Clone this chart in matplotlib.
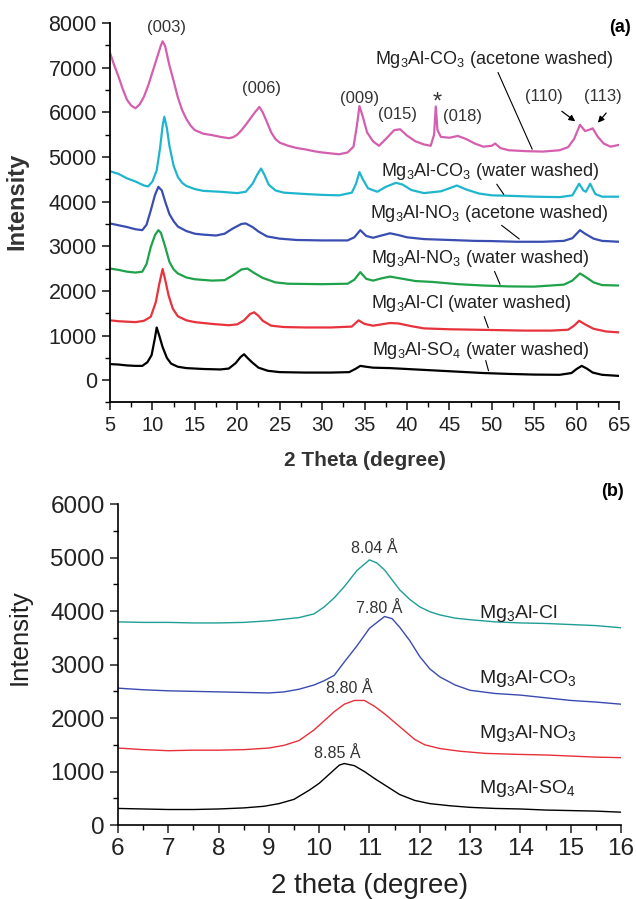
import matplotlib
matplotlib.use("Agg")
import matplotlib.pyplot as plt
from matplotlib.ticker import MultipleLocator

plt.rcParams['font.family'] = ['Liberation Sans', 'DejaVu Sans']
plt.rcParams['mathtext.fontset'] = 'custom'
plt.rcParams['mathtext.rm'] = 'Liberation Sans'
plt.rcParams['mathtext.it'] = 'Liberation Sans:italic'

# ---- panel (a) data: XRD patterns, 2 theta 5-65 ----
co3_acetone_x = [5.0, 5.5, 6.0, 6.5, 7.0, 7.5, 8.0, 8.5, 9.0, 9.5, 10.0, 10.5, 11.0, 11.2, 11.5, 12.0, 12.5, 13.0,
                 13.5, 14.0, 14.5, 15.0, 16.0, 17.0, 18.0, 19.0, 19.5, 20.0, 20.5, 21.0, 21.5, 22.0, 22.6, 23.0,
                 23.5, 24.0, 24.5, 25.0, 26.0, 27.0, 28.0, 29.0, 30.0, 31.0, 32.0, 33.0, 33.7, 34.1, 34.4, 34.8,
                 35.3, 36.0, 36.7, 37.5, 38.5, 39.2, 40.0, 41.0, 42.0, 42.8, 43.2, 43.4, 43.6, 44.0, 45.0, 46.0,
                 47.0, 48.0, 49.0, 50.0, 50.4, 51.0, 52.0, 54.0, 56.0, 58.0, 59.0, 59.7, 60.4, 61.0, 61.5, 61.9,
                 62.5, 63.2, 64.0, 65.0]
co3_acetone_y = [7330, 7050, 6800, 6520, 6280, 6150, 6090, 6180, 6350, 6600, 6900, 7200, 7500, 7590, 7480, 7050, 6700, 6330,
                 6050, 5850, 5700, 5600, 5520, 5490, 5450, 5420, 5440, 5500, 5600, 5720, 5850, 5980, 6120, 6000,
                 5780, 5550, 5400, 5320, 5250, 5200, 5170, 5130, 5100, 5080, 5060, 5100, 5230, 5700, 6140, 5900,
                 5550, 5350, 5250, 5400, 5600, 5620, 5480, 5350, 5280, 5250, 5500, 6130, 5600, 5450, 5430, 5470,
                 5400, 5300, 5230, 5250, 5300, 5200, 5150, 5130, 5120, 5150, 5220, 5400, 5720, 5580, 5610, 5640,
                 5450, 5300, 5230, 5270]

co3_water_x = [5.0, 6.0, 7.0, 8.0, 9.0, 9.5, 10.0, 10.5, 10.9, 11.2, 11.4, 11.7, 12.0, 12.5, 13.0, 13.5, 14.0, 15.0,
               16.0, 18.0, 20.0, 21.0, 21.8, 22.4, 22.8, 23.2, 23.7, 24.5, 25.5, 28.0, 30.0, 32.0, 33.5, 34.0, 34.4,
               34.8, 35.4, 36.5, 37.5, 38.7, 39.5, 40.5, 42.0, 44.0, 45.9, 47.0, 48.5, 50.0, 52.0, 55.0, 58.0,
               59.5, 60.3, 60.8, 61.1, 61.6, 62.2, 63.0, 65.0]
co3_water_y = [4680, 4620, 4520, 4450, 4360, 4340, 4450, 4700, 5200, 5700, 5900, 5650, 5250, 4800, 4550, 4420, 4350, 4280,
               4240, 4220, 4190, 4220, 4400, 4620, 4740, 4600, 4380, 4250, 4200, 4170, 4150, 4140, 4200, 4400, 4660,
               4500, 4300, 4220, 4330, 4420, 4380, 4260, 4190, 4230, 4360, 4270, 4180, 4140, 4130, 4110, 4100,
               4140, 4400, 4250, 4220, 4400, 4170, 4110, 4110]

no3_acetone_x = [5.0, 6.0, 7.0, 8.0, 8.8, 9.3, 9.8, 10.3, 10.7, 11.1, 11.5, 12.0, 12.5, 13.0, 14.0, 15.0, 16.0, 17.5,
                 18.5, 19.5, 20.5, 21.0, 21.8, 22.5, 23.5, 25.0, 27.0, 30.0, 33.0, 33.8, 34.5, 35.2, 36.0, 37.0,
                 38.0, 39.0, 40.0, 42.0, 45.0, 48.0, 50.0, 53.0, 56.0, 58.5, 59.5, 60.4, 61.0, 62.0, 63.0, 65.0]
no3_acetone_y = [3510, 3470, 3430, 3380, 3360, 3480, 3800, 4150, 4330, 4250, 4000, 3720, 3560, 3440, 3340, 3280, 3260, 3240,
                 3280, 3400, 3500, 3510, 3430, 3330, 3220, 3170, 3140, 3130, 3130, 3200, 3360, 3230, 3190, 3240,
                 3290, 3250, 3200, 3160, 3140, 3120, 3115, 3100, 3100, 3120, 3180, 3360, 3280, 3170, 3120, 3100]

no3_water_x = [5.0, 6.0, 7.0, 8.0, 8.8, 9.3, 9.8, 10.3, 10.7, 11.0, 11.5, 12.0, 12.5, 13.0, 14.0, 15.0, 17.0, 18.5,
               19.5, 20.5, 21.2, 22.0, 23.0, 24.5, 26.0, 30.0, 33.0, 33.8, 34.5, 35.2, 36.0, 37.0, 38.0, 39.5,
               41.0, 43.0, 46.0, 49.0, 52.0, 55.0, 58.5, 59.5, 60.4, 61.0, 62.0, 63.0, 65.0]
no3_water_y = [2500, 2470, 2430, 2410, 2430, 2600, 2980, 3250, 3360, 3300, 2990, 2650, 2480, 2390, 2300, 2260, 2230, 2240,
               2350, 2480, 2500, 2400, 2290, 2190, 2160, 2150, 2160, 2250, 2420, 2270, 2230, 2280, 2320, 2270,
               2220, 2200, 2150, 2120, 2100, 2095, 2140, 2230, 2390, 2320, 2190, 2130, 2120]

cl_water_x = [5.0, 6.0, 7.0, 8.0, 9.0, 9.8, 10.4, 10.8, 11.2, 11.5, 11.9, 12.4, 13.0, 14.0, 15.0, 17.0, 19.0, 20.0,
              20.8, 21.5, 22.0, 22.5, 23.0, 24.0, 25.5, 28.0, 31.0, 33.5, 34.3, 35.0, 36.0, 37.0, 38.0, 39.0,
              40.5, 42.0, 45.0, 48.0, 51.0, 54.0, 57.0, 59.0, 59.7, 60.3, 61.0, 62.0, 63.5, 65.0]
cl_water_y = [1340, 1320, 1310, 1300, 1330, 1420, 1750, 2150, 2490, 2250, 1900, 1600, 1430, 1340, 1300, 1260, 1230, 1250,
              1340, 1480, 1520, 1440, 1330, 1220, 1190, 1180, 1180, 1200, 1340, 1260, 1220, 1250, 1280, 1270,
              1210, 1160, 1140, 1130, 1120, 1110, 1110, 1130, 1220, 1330, 1250, 1150, 1090, 1070]

so4_water_x = [5.0, 6.0, 7.0, 8.0, 8.8, 9.4, 9.9, 10.3, 10.5, 10.8, 11.2, 11.7, 12.2, 13.0, 14.0, 16.0, 18.0, 19.0,
               19.8, 20.4, 20.8, 21.3, 21.8, 22.5, 23.6, 25.0, 28.0, 31.0, 33.2, 34.0, 34.5, 35.2, 36.0, 38.0,
               40.0, 43.0, 46.0, 49.0, 52.0, 55.0, 58.0, 59.4, 60.0, 60.6, 61.2, 61.9, 63.0, 65.0]
so4_water_y = [360, 350, 330, 320, 320, 400, 560, 950, 1180, 1000, 740, 500, 370, 300, 270, 250, 240, 260,
               380, 520, 580, 480, 390, 280, 210, 180, 170, 170, 180, 260, 320, 300, 280, 270,
               250, 220, 190, 160, 140, 125, 120, 160, 250, 320, 260, 170, 120, 95]

# ---- panel (b) data: low-angle region, 2 theta 6-16 ----
b_cl_x = [6.0, 6.5, 7.0, 7.5, 8.0, 8.5, 9.0, 9.3, 9.6, 9.9, 10.1, 10.3, 10.5, 10.75, 11.0, 11.15, 11.3, 11.6, 11.8,
          12.0, 12.2, 12.4, 12.7, 13.0, 13.5, 14.0, 14.5, 15.0, 15.5, 16.0]
b_cl_y = [3800, 3790, 3790, 3780, 3780, 3790, 3820, 3850, 3880, 3950, 4080, 4250, 4460, 4760, 4960, 4900, 4770, 4400, 4220,
          4080, 3990, 3930, 3870, 3840, 3800, 3780, 3770, 3750, 3730, 3690]

b_co3_x = [6.0, 6.5, 7.0, 7.5, 8.0, 8.5, 9.0, 9.3, 9.6, 9.9, 10.1, 10.3, 10.5, 10.75, 11.0, 11.3, 11.45, 11.6, 11.8,
           12.0, 12.2, 12.4, 12.7, 13.0, 13.5, 14.0, 14.5, 15.0, 15.5, 16.0]
b_co3_y = [2560, 2530, 2510, 2500, 2490, 2480, 2470, 2490, 2540, 2620, 2700, 2800, 3050, 3350, 3680, 3900, 3860, 3700, 3450,
           3150, 2920, 2770, 2620, 2520, 2460, 2430, 2380, 2330, 2300, 2260]

b_no3_x = [6.0, 6.5, 7.0, 7.5, 8.0, 8.5, 9.0, 9.3, 9.6, 9.9, 10.1, 10.3, 10.5, 10.7, 10.9, 11.1, 11.3, 11.5, 11.7,
           11.9, 12.1, 12.4, 12.8, 13.3, 14.0, 14.5, 15.0, 15.5, 16.0]
b_no3_y = [1440, 1410, 1390, 1400, 1400, 1410, 1440, 1490, 1580, 1780, 1950, 2120, 2260, 2330, 2330, 2220, 2080, 1920, 1760,
           1600, 1500, 1430, 1380, 1340, 1320, 1310, 1290, 1270, 1260]

b_so4_x = [6.0, 6.5, 7.0, 7.5, 8.0, 8.5, 8.9, 9.2, 9.5, 9.8, 10.0, 10.2, 10.4, 10.5, 10.7, 10.9, 11.1, 11.3, 11.6,
           11.9, 12.2, 12.6, 13.0, 13.5, 14.0, 14.5, 15.0, 15.5, 16.0]
b_so4_y = [310, 300, 290, 290, 300, 320, 350, 400, 480, 650, 780, 950, 1120, 1150, 1110, 1000, 870, 750, 570,
           460, 400, 360, 330, 310, 300, 280, 270, 260, 240]

peak_labels = ['(003)', '(006)', '(009)', '(015)', '*', '(018)', '(110)', '(113)']
spacing_labels = ['8.04 Å', '7.80 Å', '8.80 Å', '8.85 Å']

fig = plt.figure(figsize=(6.36, 8.99), dpi=100)

# ================= panel (a) =================
ax = fig.add_axes([0.173, 0.5523, 0.8003, 0.4221])
ax.plot(co3_acetone_x, co3_acetone_y, color='#d45fae', lw=1.6)
ax.plot(co3_water_x, co3_water_y, color='#1fb6cd', lw=1.6)
ax.plot(no3_acetone_x, no3_acetone_y, color='#3a4db0', lw=1.6)
ax.plot(no3_water_x, no3_water_y, color='#1fa24a', lw=1.6)
ax.plot(cl_water_x, cl_water_y, color='#e8323c', lw=1.6)
ax.plot(so4_water_x, so4_water_y, color='black', lw=1.6)

ax.set_xlim(5, 65)
ax.set_ylim(-500, 8000)
ax.xaxis.set_major_locator(MultipleLocator(5))
ax.xaxis.set_minor_locator(MultipleLocator(2.5))
ax.yaxis.set_major_locator(MultipleLocator(1000))
ax.yaxis.set_minor_locator(MultipleLocator(500))
for s in ['top', 'right']:
    ax.spines[s].set_visible(False)
for s in ['left', 'bottom']:
    ax.spines[s].set_linewidth(1.3)
ax.tick_params(which='major', length=6, width=1.2, labelsize=14.5, colors='#222222')
ax.tick_params(axis='y', labelsize=15.5)
ax.tick_params(which='minor', length=3.5, width=1.0)
ax.set_xlabel('2 Theta (degree)', fontsize=15, fontweight='bold', color='#333333', labelpad=12)
ax.set_ylabel('Intensity', fontsize=17, fontweight='bold', color='#333333')
ax.yaxis.set_label_coords(-0.16, 0.53)

peak_pos = [(11.7, 7890), (22.9, 6540), (34.4, 6315), (38.9, 5940), (43.6, 6230), (46.6, 5903), (56.1, 6352), (63.1, 6352)]
for lab, (px, py) in zip(peak_labels, peak_pos):
    fs = 17 if lab == '*' else 12
    ax.text(px, py, lab, fontsize=fs, ha='center', va='center', color='#333333')
ax.annotate('', xy=(60.1, 5760), xytext=(58.0, 6060),
            arrowprops=dict(arrowstyle='-|>', color='black', lw=0.9, mutation_scale=9))
ax.annotate('', xy=(62.3, 5720), xytext=(63.7, 6030),
            arrowprops=dict(arrowstyle='-|>', color='black', lw=0.9, mutation_scale=9))

series_labels = [
    (r'Mg$_3$Al-CO$_3$ (acetone washed)', (50.3, 7176), (50.6, 6950), (54.9, 5116)),
    (r'Mg$_3$Al-CO$_3$ (water washed)', (49.8, 4667), (50.4, 4440), (51.6, 4110)),
    (r'Mg$_3$Al-NO$_3$ (acetone washed)', (49.7, 3730), (50.9, 3506), (53.5, 3125)),
    (r'Mg$_3$Al-NO$_3$ (water washed)', (48.6, 2719), (50.2, 2494), (51.1, 2090)),
    (r'Mg$_3$Al-Cl (water washed)', (47.6, 1708), (49.0, 1483), (49.7, 1115)),
    (r'Mg$_3$Al-SO$_4$ (water washed)', (48.7, 659), (49.2, 500), (49.7, 150)),
]
for txt, (tx, ty), p0, p1 in series_labels:
    ax.text(tx, ty, txt, fontsize=13, ha='center', va='center', color='#222222')
    ax.annotate('', xy=p1, xytext=p0, arrowprops=dict(arrowstyle='-', color='black', lw=0.8))

fig.text(0.975, 0.969, '(a)', fontsize=13, fontweight='bold', ha='center', va='center')

# ================= panel (b) =================
bx = fig.add_axes([0.1855, 0.0823, 0.7909, 0.3568])
bx.plot(b_cl_x, b_cl_y, color='#1f9e95', lw=1.0)
bx.plot(b_co3_x, b_co3_y, color='#3b4ab0', lw=1.0)
bx.plot(b_no3_x, b_no3_y, color='#e8303a', lw=1.0)
bx.plot(b_so4_x, b_so4_y, color='black', lw=1.0)

bx.set_xlim(6, 16)
bx.set_ylim(0, 6000)
bx.xaxis.set_major_locator(MultipleLocator(1))
bx.xaxis.set_minor_locator(MultipleLocator(0.5))
bx.yaxis.set_major_locator(MultipleLocator(1000))
bx.yaxis.set_minor_locator(MultipleLocator(500))
for s in ['top', 'right']:
    bx.spines[s].set_visible(False)
for s in ['left', 'bottom']:
    bx.spines[s].set_linewidth(1.2)
bx.tick_params(which='major', length=6, width=1.1, labelsize=17.5, colors='#222222')
bx.tick_params(which='minor', length=3.5, width=1.0)
bx.set_xlabel('2 theta (degree)', fontsize=20, color='#222222', labelpad=9)
bx.set_ylabel('Intensity', fontsize=18.5, color='#222222')
bx.yaxis.set_label_coords(-0.172, 0.585)

spacing_pos = [(11.1, 5176), (11.2, 4054), (10.6, 2557), (10.35, 1341)]
for lab, (px, py) in zip(spacing_labels, spacing_pos):
    bx.text(px, py, lab, fontsize=11.5, ha='center', va='center', color='#333333')

b_names = [r'Mg$_3$Al-Cl', r'Mg$_3$Al-CO$_3$', r'Mg$_3$Al-NO$_3$', r'Mg$_3$Al-SO$_4$']
b_name_y = [3960, 2744, 1715, 686]
for name, ny in zip(b_names, b_name_y):
    bx.text(13.17, ny, name, fontsize=14, ha='left', va='center', color='#222222')

fig.text(0.963, 0.453, '(b)', fontsize=13, fontweight='bold', ha='center', va='center')

fig.savefig('out.png', dpi=100)
